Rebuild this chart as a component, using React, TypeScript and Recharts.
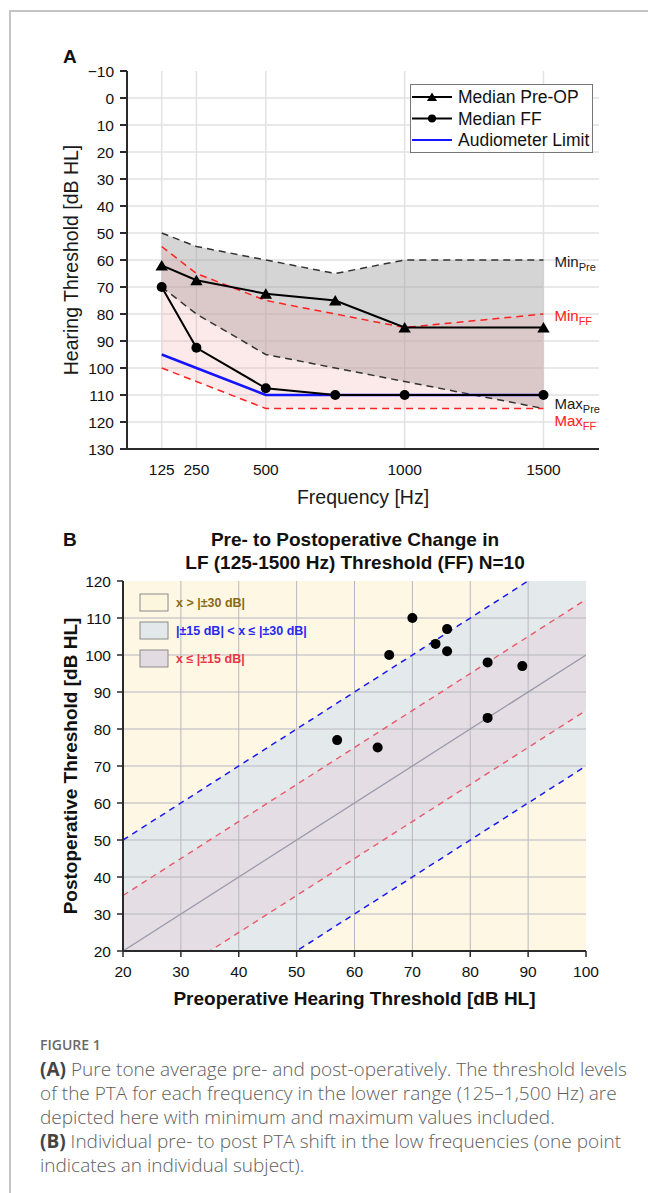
import React from 'react';
import {
  ComposedChart,
  Area,
  Line,
  Scatter,
  XAxis,
  YAxis,
  CartesianGrid,
  ReferenceLine,
  ReferenceDot,
} from 'recharts';

const FONT = '"Liberation Sans", Arial, Helvetica, sans-serif';

// ---------- Panel A data ----------
const frequencies = [125, 250, 500, 750, 1000, 1500];
const medianPreOp = [62, 67.5, 72.5, 75, 85, 85];
const medianFF = [70, 92.5, 107.5, 110, 110, 110];
const audiometerLimit = [95, 100, 110, 110, 110, 110];
const minPre = [50, 55, 60, 65, 60, 60];
const maxPre = [70, 80, 95, 100, 105, 115];
const minFF = [55, 65, 75, 80, 85, 80];
const maxFF = [100, 105, 115, 115, 115, 115];
const freqTicks = [125, 250, 500, 1000, 1500];
const thresholdTicks = [-10, 0, 10, 20, 30, 40, 50, 60, 70, 80, 90, 100, 110, 120, 130];
const thresholdGrid = [0, 10, 20, 30, 40, 50, 60, 70, 80, 90, 100, 110, 120];

// ---------- Panel B data ----------
const preOpPTA = [57, 64, 66, 70, 74, 76, 76, 83, 83, 89];
const postOpPTA = [77, 75, 100, 110, 103, 107, 101, 98, 83, 97];
const diagonalX = [20, 100];
const identityLine = [20, 100];
const plus15 = [35, 115];
const minus15 = [5, 85];
const plus30 = [50, 130];
const minus30 = [-10, 70];
const preTicks = [20, 30, 40, 50, 60, 70, 80, 90, 100];
const postTicks = [20, 30, 40, 50, 60, 70, 80, 90, 100, 110, 120];

const rowsA = frequencies.map((f, i) => ({
  f,
  pre: medianPreOp[i],
  ff: medianFF[i],
  limit: audiometerLimit[i],
  minPre: minPre[i],
  maxPre: maxPre[i],
  minFF: minFF[i],
  maxFF: maxFF[i],
  preBand: [minPre[i], maxPre[i]],
  ffBand: [minFF[i], maxFF[i]],
}));

const rowsB = diagonalX.map((x, i) => ({
  pre: x,
  identity: identityLine[i],
  p15: plus15[i],
  m15: minus15[i],
  p30: plus30[i],
  m30: minus30[i],
  band30: [minus30[i], plus30[i]],
  band15: [minus15[i], plus15[i]],
}));

const pointsB = preOpPTA.map((p, i) => ({ pre: p, post: postOpPTA[i] }));

const last = frequencies.length - 1;

const TICK_SIZE = 15.5;
const TICK_COLOR = '#111';

const fmt = (v: number) => (v < 0 ? `\u2212${Math.abs(v)}` : `${v}`);

const XTick = (props: any) => {
  const { x, y, payload } = props;
  return (
    <text x={x} y={y} dy="0.71em" textAnchor="middle" fontSize={TICK_SIZE} fontFamily={FONT} fill={TICK_COLOR}>
      {fmt(payload.value)}
    </text>
  );
};

const YTick = (props: any) => {
  const { x, y, payload } = props;
  return (
    <text x={x} y={y} dy="0.355em" textAnchor="end" fontSize={TICK_SIZE} fontFamily={FONT} fill={TICK_COLOR}>
      {fmt(payload.value)}
    </text>
  );
};

const TriangleDot = (props: any) => {
  const { cx, cy, index } = props;
  if (cx == null || cy == null) return <g key={`t-${index}`} />;
  return (
    <polygon
      key={`t-${index}`}
      points={`${cx},${cy - 5.5} ${cx + 6.2},${cy + 5} ${cx - 6.2},${cy + 5}`}
      fill="#000"
    />
  );
};

const CircleDot = (props: any) => {
  const { cx, cy, index } = props;
  if (cx == null || cy == null) return <g key={`c-${index}`} />;
  return <circle key={`c-${index}`} cx={cx} cy={cy} r={5} fill="#000" />;
};

const ScatterDot = (props: any) => {
  const { cx, cy } = props;
  if (cx == null || cy == null) return <g />;
  return <circle cx={cx} cy={cy} r={5} fill="#000" />;
};

const sideLabel = (main: string, sub: string, color: string, dy: number) => (props: any) => {
  const vb = props.viewBox || {};
  const x = (vb.x ?? 0) + (vb.width ?? 0) / 2 + 11;
  const y = (vb.y ?? 0) + (vb.height ?? 0) / 2 + dy;
  return (
    <text x={x} y={y} fill={color} fontSize={15} fontFamily={FONT}>
      {main}
      <tspan fontSize={11} dy={4}>
        {sub}
      </tspan>
    </text>
  );
};

function PanelA() {
  return (
    <ComposedChart
      width={648}
      height={520}
      data={rowsA}
      margin={{ top: 71, right: 49, bottom: 11, left: 67 }}
    >
      <CartesianGrid
        stroke="#e2e2e2"
        strokeWidth={1.5}
        horizontalValues={thresholdGrid}
        verticalValues={freqTicks}
      />
      <XAxis
        type="number"
        dataKey="f"
        domain={[0, 1700]}
        ticks={freqTicks}
        interval={0}
        tickLine={false}
        tickSize={6}
        tickMargin={9}
        height={60}
        axisLine={{ stroke: '#2a2a2a', strokeWidth: 2 }}
        tick={XTick}
        label={{
          value: 'Frequency [Hz]',
          position: 'insideBottom',
          offset: 5,
          style: { fontSize: 19.5, fill: '#1a1a1a', fontFamily: FONT },
        }}
      />
      <YAxis
        type="number"
        reversed
        domain={[-10, 130]}
        ticks={thresholdTicks}
        interval={0}
        width={60}
        tickSize={7}
        tickMargin={6}
        axisLine={{ stroke: '#2a2a2a', strokeWidth: 2 }}
        tickLine={{ stroke: '#2a2a2a', strokeWidth: 2 }}
        tick={YTick}
        label={{
          value: 'Hearing Threshold [dB HL]',
          angle: -90,
          position: 'insideLeft',
          offset: 4,
          style: { textAnchor: 'middle', fontSize: 19.5, fill: '#1a1a1a', fontFamily: FONT },
        }}
      />
      <Area
        dataKey="preBand"
        type="linear"
        fill="#9a9a9a"
        fillOpacity={0.42}
        stroke="none"
        isAnimationActive={false}
      />
      <Area
        dataKey="ffBand"
        type="linear"
        fill="#f2a3a3"
        fillOpacity={0.23}
        stroke="none"
        isAnimationActive={false}
      />
      <Line dataKey="minPre" type="linear" stroke="#333" strokeWidth={1.5} strokeDasharray="7 5" dot={false} isAnimationActive={false} />
      <Line dataKey="maxPre" type="linear" stroke="#333" strokeWidth={1.5} strokeDasharray="7 5" dot={false} isAnimationActive={false} />
      <Line dataKey="minFF" type="linear" stroke="#ff2020" strokeWidth={1.5} strokeDasharray="7 5" dot={false} isAnimationActive={false} />
      <Line dataKey="maxFF" type="linear" stroke="#ff2020" strokeWidth={1.5} strokeDasharray="7 5" dot={false} isAnimationActive={false} />
      <Line dataKey="limit" type="linear" stroke="#1414ff" strokeWidth={2.5} dot={false} isAnimationActive={false} />
      <Line dataKey="ff" type="linear" stroke="#000" strokeWidth={2} dot={CircleDot} activeDot={false} isAnimationActive={false} />
      <Line dataKey="pre" type="linear" stroke="#000" strokeWidth={2} dot={TriangleDot} activeDot={false} isAnimationActive={false} />
      <ReferenceDot x={frequencies[last]} y={minPre[last]} r={0} fill="none" stroke="none" label={sideLabel('Min', 'Pre', '#1a1a1a', 7)} />
      <ReferenceDot x={frequencies[last]} y={minFF[last]} r={0} fill="none" stroke="none" label={sideLabel('Min', 'FF', '#ff2020', 7)} />
      <ReferenceDot x={frequencies[last]} y={maxPre[last]} r={0} fill="none" stroke="none" label={sideLabel('Max', 'Pre', '#1a1a1a', 0)} />
      <ReferenceDot x={frequencies[last]} y={maxFF[last]} r={0} fill="none" stroke="none" label={sideLabel('Max', 'FF', '#ff2020', 17.5)} />
    </ComposedChart>
  );
}

function PanelB() {
  return (
    <ComposedChart
      width={648}
      height={500}
      data={rowsB}
      margin={{ top: 61, right: 62, bottom: 9, left: 63 }}
    >
      <CartesianGrid fill="#fdf7e4" stroke="none" />
      <XAxis
        type="number"
        dataKey="pre"
        domain={[20, 100]}
        allowDataOverflow
        ticks={preTicks}
        interval={0}
        tickSize={6}
        tickMargin={9}
        height={60}
        axisLine={{ stroke: '#2a2a2a', strokeWidth: 2 }}
        tickLine={{ stroke: '#2a2a2a', strokeWidth: 1.5 }}
        tick={XTick}
        label={{
          value: 'Preoperative Hearing Threshold [dB HL]',
          position: 'insideBottom',
          offset: 6,
          style: { fontSize: 19, fontWeight: 'bold', fill: '#111', fontFamily: FONT },
        }}
      />
      <YAxis
        type="number"
        domain={[20, 120]}
        allowDataOverflow
        ticks={postTicks}
        interval={0}
        width={60}
        tickSize={6}
        tickMargin={6}
        axisLine={{ stroke: '#2a2a2a', strokeWidth: 2 }}
        tickLine={{ stroke: '#2a2a2a', strokeWidth: 1.5 }}
        tick={YTick}
        label={{
          value: 'Postoperative Threshold [dB HL]',
          angle: -90,
          position: 'insideLeft',
          offset: 7,
          style: { textAnchor: 'middle', fontSize: 19, fontWeight: 'bold', fill: '#111', fontFamily: FONT },
        }}
      />
      <XAxis xAxisId="top" orientation="top" type="number" domain={[20, 100]} height={0} tick={false} tickLine={false} axisLine={{ stroke: '#2a2a2a', strokeWidth: 2 }} />
      <YAxis yAxisId="right" orientation="right" type="number" domain={[20, 120]} width={0} tick={false} tickLine={false} axisLine={{ stroke: '#2a2a2a', strokeWidth: 2 }} />
      <Area dataKey="band30" type="linear" fill="#e4e9ec" fillOpacity={1} stroke="none" isAnimationActive={false} />
      <Area dataKey="band15" type="linear" fill="#e5dde4" fillOpacity={1} stroke="none" isAnimationActive={false} />
      {preTicks.slice(1, -1).map((v) => (
        <ReferenceLine key={`gx-${v}`} x={v} stroke="#b7b7c0" strokeWidth={1} />
      ))}
      {postTicks.slice(1, -1).map((v) => (
        <ReferenceLine key={`gy-${v}`} y={v} stroke="#b7b7c0" strokeWidth={1} />
      ))}
      <Line dataKey="identity" type="linear" stroke="#9a9aaa" strokeWidth={1.3} dot={false} activeDot={false} isAnimationActive={false} />
      <Line dataKey="p15" type="linear" stroke="#e8596a" strokeWidth={1.4} strokeDasharray="6 5" dot={false} activeDot={false} isAnimationActive={false} />
      <Line dataKey="m15" type="linear" stroke="#e8596a" strokeWidth={1.4} strokeDasharray="6 5" dot={false} activeDot={false} isAnimationActive={false} />
      <Line dataKey="p30" type="linear" stroke="#1a1aee" strokeWidth={1.5} strokeDasharray="6 5" dot={false} activeDot={false} isAnimationActive={false} />
      <Line dataKey="m30" type="linear" stroke="#1a1aee" strokeWidth={1.5} strokeDasharray="6 5" dot={false} activeDot={false} isAnimationActive={false} />
      <Scatter data={pointsB} dataKey="post" fill="#000" shape={ScatterDot} isAnimationActive={false} />
    </ComposedChart>
  );
}

function LegendA() {
  const rows = [
    { label: 'Median Pre-OP', color: '#000', marker: 'tri' },
    { label: 'Median FF', color: '#000', marker: 'circle' },
    { label: 'Audiometer Limit', color: '#1414ff', marker: 'none' },
  ];
  return (
    <div
      style={{
        position: 'absolute',
        left: 410,
        top: 84,
        width: 183,
        height: 69,
        boxSizing: 'border-box',
        border: '1px solid #777',
        background: '#fff',
      }}
    >
      <svg width={181} height={67}>
        {rows.map((r, i) => {
          const y = 12 + i * 21.5;
          return (
            <g key={r.label}>
              <line x1={1} x2={41} y1={y} y2={y} stroke={r.color} strokeWidth={2} />
              {r.marker === 'tri' && (
                <polygon points={`21,${y - 4.5} 26,${y + 4} 16,${y + 4}`} fill="#000" />
              )}
              {r.marker === 'circle' && <circle cx={21} cy={y} r={4} fill="#000" />}
              <text x={47} y={y + 6.3} fontSize={17.5} fill="#111" fontFamily={FONT}>
                {r.label}
              </text>
            </g>
          );
        })}
      </svg>
    </div>
  );
}

function Overlay() {
  const legendB = [
    { label: 'x > |\u00b130 dB|', fill: '#fdf6df', color: '#8a6a14' },
    { label: '|\u00b115 dB| < x \u2264 |\u00b130 dB|', fill: '#e3e8eb', color: '#2828f0' },
    { label: 'x \u2264 |\u00b115 dB|', fill: '#e3dbe2', color: '#ee3344' },
  ];
  return (
    <svg
      width={648}
      height={1193}
      style={{ position: 'absolute', left: 0, top: 0, pointerEvents: 'none' }}
    >
      <text x={63} y={63} fontSize={19} fontWeight="bold" fontFamily={FONT} fill="#111">
        A
      </text>
      <text x={63} y={546} fontSize={19} fontWeight="bold" fontFamily={FONT} fill="#111">
        B
      </text>
      <text x={355} y={546} fontSize={19} fontWeight="bold" fontFamily={FONT} fill="#111" textAnchor="middle">
        Pre- to Postoperative Change in
      </text>
      <text x={355} y={569} fontSize={19} fontWeight="bold" fontFamily={FONT} fill="#111" textAnchor="middle">
        LF (125-1500 Hz) Threshold (FF) N=10
      </text>
      {legendB.map((r, i) => {
        const y = 594 + i * 28;
        return (
          <g key={r.label}>
            <rect x={140} y={y} width={28} height={17} fill={r.fill} stroke="#8a8a8a" strokeWidth={1} />
            <text x={176} y={y + 13} fontSize={12.5} fontWeight="bold" fontFamily={FONT} fill={r.color}>
              {r.label}
            </text>
          </g>
        );
      })}
    </svg>
  );
}

const captionLine: React.CSSProperties = {
  position: 'absolute',
  left: 40,
  whiteSpace: 'nowrap',
  fontFamily: '"Open Sans", Lato, sans-serif',
  fontSize: 19,
  fontWeight: 300,
  lineHeight: '24px',
  color: '#5e5e5e',
};

export default function App() {
  return (
    <div
      style={{
        position: 'absolute',
        left: 0,
        top: 0,
        width: 648,
        height: 1193,
        overflow: 'hidden',
        background: '#fff',
      }}
    >
      <div
        style={{
          position: 'absolute',
          left: 9,
          top: 10,
          width: 700,
          height: 1300,
          borderTop: '2px solid #c4c4c4',
          borderLeft: '2px solid #c4c4c4',
        }}
      />
      <div style={{ position: 'absolute', left: 0, top: 0 }}>
        <PanelA />
      </div>
      <div style={{ position: 'absolute', left: 0, top: 520 }}>
        <PanelB />
      </div>
      <LegendA />
      <Overlay />
      <div
        style={{
          ...captionLine,
          top: 1033,
          fontSize: 14,
          fontWeight: 600,
          color: '#6a6a6a',
        }}
      >
        FIGURE 1
      </div>
      <div style={{ ...captionLine, top: 1057 }}>
        <b style={{ color: '#444', fontWeight: 700 }}>(A)</b> Pure tone average pre- and post-operatively. The threshold levels
      </div>
      <div style={{ ...captionLine, top: 1081 }}>
        of the PTA for each frequency in the lower range (125–1,500 Hz) are
      </div>
      <div style={{ ...captionLine, top: 1105 }}>
        depicted here with minimum and maximum values included.
      </div>
      <div style={{ ...captionLine, top: 1129 }}>
        <b style={{ color: '#444', fontWeight: 700 }}>(B)</b> Individual pre- to post PTA shift in the low frequencies (one point
      </div>
      <div style={{ ...captionLine, top: 1153 }}>
        indicates an individual subject).
      </div>
    </div>
  );
}
